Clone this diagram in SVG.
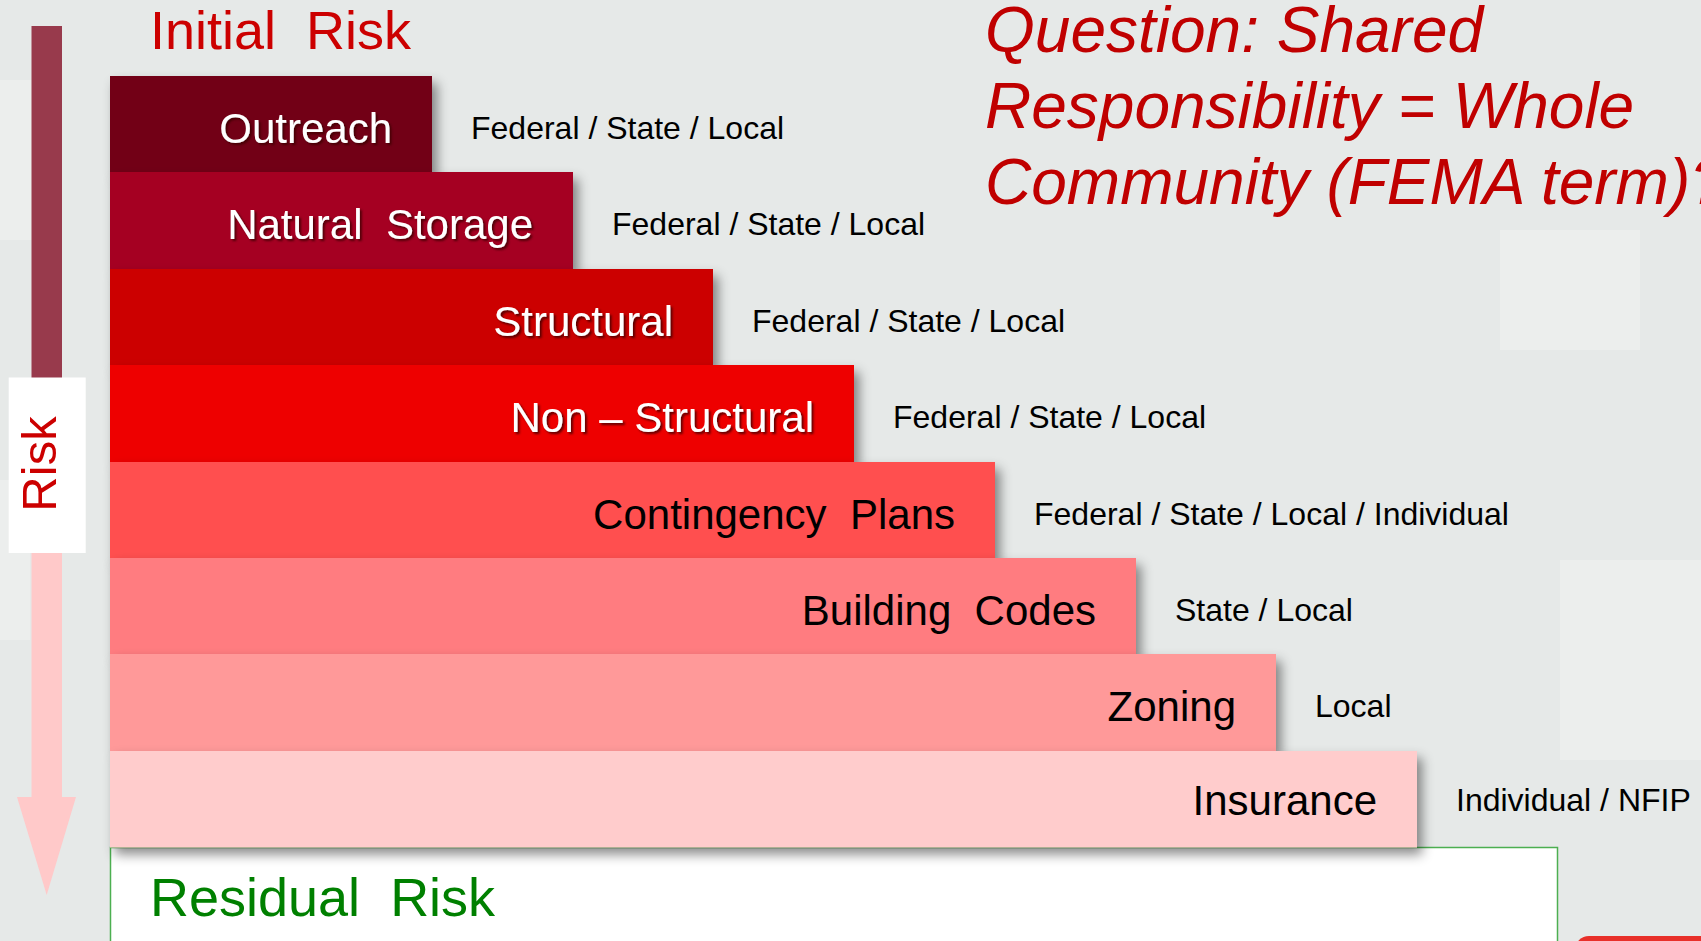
<svg xmlns="http://www.w3.org/2000/svg" width="1701" height="941" viewBox="0 0 1701 941">
<defs>
<filter id="sh" x="-10%" y="-20%" width="130%" height="160%">
<feDropShadow dx="5" dy="7" stdDeviation="6" flood-color="#000" flood-opacity="0.45"/>
</filter>
<filter id="tsh" x="-10%" y="-30%" width="130%" height="160%">
<feDropShadow dx="2" dy="2" stdDeviation="1.2" flood-color="#3a0000" flood-opacity="0.8"/>
</filter>
<style>
text{white-space:pre}
.big{font-family:"Liberation Sans",Arial,sans-serif;font-size:42px;text-anchor:end}
.w{fill:#ffffff}
.b{fill:#000000}
.lbl{font-family:"Liberation Sans",Arial,sans-serif;font-size:32px;fill:#000}
.title{font-family:"Liberation Sans",Arial,sans-serif;font-size:54px}
.q{font-family:"Liberation Sans",Arial,sans-serif;font-size:64px;font-style:italic;fill:#C00000}
</style>
</defs>
<rect x="0" y="0" width="1701" height="941" fill="#E6E9E8"/>
<g fill="#F0F2F0" opacity="0.55">
<rect x="0" y="80" width="50" height="160"/>
<rect x="0" y="480" width="30" height="160"/>
<rect x="1500" y="230" width="140" height="120"/>
<rect x="1560" y="560" width="141" height="200"/>
</g>
<g id="risk-arrow">
<rect x="31.5" y="26" width="30.5" height="355" fill="#983A4C"/>
<rect x="31.5" y="550" width="30.5" height="250" fill="#FFC9C9"/>
<polygon points="17,797 76,797 46.7,895" fill="#FFC9C9"/>
<rect x="8.7" y="377.5" width="77" height="175.5" fill="#FFFFFF"/>
<text transform="translate(56,464) rotate(-90)" text-anchor="middle" font-family="Liberation Sans, Arial, sans-serif" font-size="49" fill="#CC0000">Risk</text>
</g>
<text class="title" x="150" y="49" fill="#CC0000">Initial  Risk</text>
<g id="residual">
<rect x="110.5" y="847.5" width="1447" height="110" fill="#FFFFFF" stroke="#4CAF50" stroke-width="1.5"/>
<text class="title" x="150" y="916" fill="#008000">Residual  Risk</text>
</g>
<g id="row-outreach">
<rect x="110" y="76" width="322" height="97" fill="#720016" filter="url(#sh)"/>
<text class="big w" x="392" y="143" filter="url(#tsh)">Outreach</text>
<text class="lbl" x="471" y="139">Federal / State / Local</text>
</g>
<g id="row-natural-storage">
<rect x="110" y="172" width="463" height="97" fill="#A50021" filter="url(#sh)"/>
<text class="big w" x="533" y="239" filter="url(#tsh)">Natural  Storage</text>
<text class="lbl" x="612" y="235">Federal / State / Local</text>
</g>
<g id="row-structural">
<rect x="110" y="269" width="603" height="97" fill="#CC0000" filter="url(#sh)"/>
<text class="big w" x="673" y="336" filter="url(#tsh)">Structural</text>
<text class="lbl" x="752" y="332">Federal / State / Local</text>
</g>
<g id="row-non-structural">
<rect x="110" y="365" width="744" height="97" fill="#EE0000" filter="url(#sh)"/>
<text class="big w" x="814" y="432" filter="url(#tsh)">Non – Structural</text>
<text class="lbl" x="893" y="428">Federal / State / Local</text>
</g>
<g id="row-contingency">
<rect x="110" y="462" width="885" height="97" fill="#FF5050" filter="url(#sh)"/>
<text class="big b" x="955" y="529">Contingency  Plans</text>
<text class="lbl" x="1034" y="525">Federal / State / Local / Individual</text>
</g>
<g id="row-building-codes">
<rect x="110" y="558" width="1026" height="97" fill="#FF7C80" filter="url(#sh)"/>
<text class="big b" x="1096" y="625">Building  Codes</text>
<text class="lbl" x="1175" y="621">State / Local</text>
</g>
<g id="row-zoning">
<rect x="110" y="654" width="1166" height="97" fill="#FF9999" filter="url(#sh)"/>
<text class="big b" x="1236" y="721">Zoning</text>
<text class="lbl" x="1315" y="717">Local</text>
</g>
<g id="row-insurance">
<rect x="110" y="751" width="1307" height="96.5" fill="#FFCCCC" filter="url(#sh)"/>
<text class="big b" x="1377" y="815">Insurance</text>
<text class="lbl" x="1456" y="811">Individual / NFIP</text>
</g>
<g id="question">
<text class="q" x="985" y="52">Question: Shared</text>
<text class="q" x="985" y="128">Responsibility = Whole</text>
<text class="q" x="985" y="204">Community (FEMA term)?</text>
</g>
<rect x="1575" y="936" width="140" height="30" rx="14" fill="#E8302A"/>
</svg>
